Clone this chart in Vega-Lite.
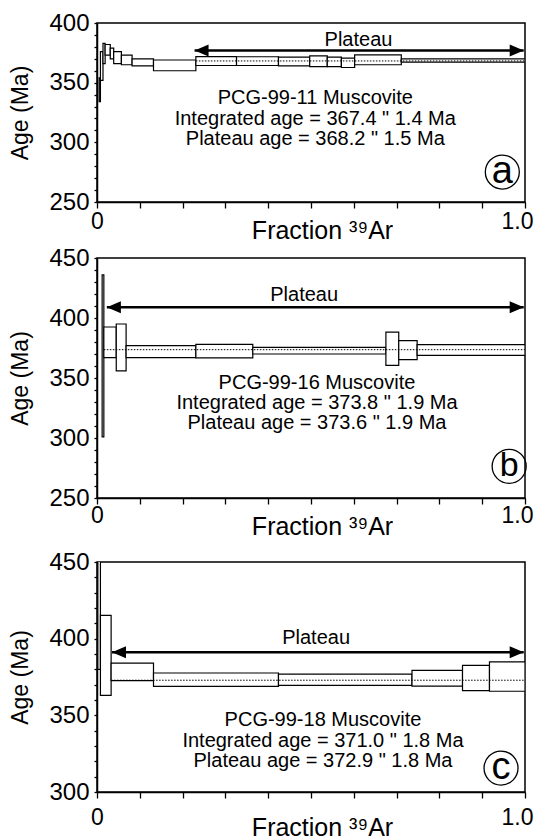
{
  "$schema": "https://vega.github.io/schema/vega-lite/v6.json",
  "usermeta": {"embedOptions": {"actions": false}},
  "background": "white",
  "padding": {"left": 9, "top": 10, "right": 0, "bottom": 0},
  "datasets": {
    "a_steps": [
      {"f0": 0.005, "f1": 0.008, "lo": 334, "hi": 354},
      {"f0": 0.008, "f1": 0.014, "lo": 352, "hi": 376},
      {"f0": 0.014, "f1": 0.019, "lo": 366, "hi": 383},
      {"f0": 0.019, "f1": 0.031, "lo": 373, "hi": 382},
      {"f0": 0.031, "f1": 0.039, "lo": 370, "hi": 379},
      {"f0": 0.039, "f1": 0.057, "lo": 366, "hi": 376},
      {"f0": 0.057, "f1": 0.082, "lo": 365, "hi": 373},
      {"f0": 0.082, "f1": 0.132, "lo": 364, "hi": 370},
      {"f0": 0.132, "f1": 0.231, "lo": 360, "hi": 369},
      {"f0": 0.231, "f1": 0.326, "lo": 364.4, "hi": 371.9},
      {"f0": 0.326, "f1": 0.424, "lo": 364.4, "hi": 371.7},
      {"f0": 0.424, "f1": 0.497, "lo": 364.1, "hi": 371.4},
      {"f0": 0.497, "f1": 0.538, "lo": 363.5, "hi": 372.5},
      {"f0": 0.538, "f1": 0.571, "lo": 363.5, "hi": 371.4},
      {"f0": 0.571, "f1": 0.602, "lo": 362.7, "hi": 370.6},
      {"f0": 0.602, "f1": 0.711, "lo": 365, "hi": 373.3},
      {"f0": 0.711, "f1": 1.0, "lo": 367.2, "hi": 370}
    ],
    "a_plateau": [{"f0": 0.231, "f1": 1.0, "lo": 368.2}],
    "a_arrow": [{"f0": 0.228, "f1": 0.997, "lo": 377}],
    "a_heads": [{"f0": 0.228, "lo": 377, "side": "L"}, {"f0": 0.997, "lo": 377, "side": "R"}],
    "a_notes": [
      {"f0": 0.611, "lo": 385.7, "txt": "Plateau"},
      {"f0": 0.51, "lo": 337.4, "txt": "PCG-99-11 Muscovite"},
      {"f0": 0.51, "lo": 319.9, "txt": "Integrated age = 367.4 \" 1.4 Ma"},
      {"f0": 0.51, "lo": 302.4, "txt": "Plateau age = 368.2 \" 1.5 Ma"}
    ],
    "a_tag": [{"f0": 0.947, "lo": 275.1, "txt": "a"}],
    "b_steps": [
      {"f0": 0.012, "f1": 0.016, "lo": 301, "hi": 436},
      {"f0": 0.016, "f1": 0.045, "lo": 367, "hi": 392.5},
      {"f0": 0.045, "f1": 0.068, "lo": 356, "hi": 395},
      {"f0": 0.068, "f1": 0.231, "lo": 367, "hi": 377},
      {"f0": 0.231, "f1": 0.364, "lo": 366.7, "hi": 378},
      {"f0": 0.364, "f1": 0.675, "lo": 370, "hi": 375.5},
      {"f0": 0.675, "f1": 0.705, "lo": 360.6, "hi": 388.3},
      {"f0": 0.705, "f1": 0.748, "lo": 365.3, "hi": 381.2},
      {"f0": 0.748, "f1": 1.0, "lo": 368.9, "hi": 377.8}
    ],
    "b_plateau": [{"f0": 0.016, "f1": 1.0, "lo": 373.6}],
    "b_arrow": [{"f0": 0.023, "f1": 0.997, "lo": 409}],
    "b_heads": [{"f0": 0.023, "lo": 409, "side": "L"}, {"f0": 0.997, "lo": 409, "side": "R"}],
    "b_notes": [
      {"f0": 0.484, "lo": 419.5, "txt": "Plateau"},
      {"f0": 0.514, "lo": 345.6, "txt": "PCG-99-16 Muscovite"},
      {"f0": 0.514, "lo": 329.0, "txt": "Integrated age = 373.8 \" 1.9 Ma"},
      {"f0": 0.514, "lo": 312.4, "txt": "Plateau age = 373.6 \" 1.9 Ma"}
    ],
    "b_tag": [{"f0": 0.963, "lo": 276.4, "txt": "b"}],
    "c_steps": [
      {"f0": 0.002, "f1": 0.008, "lo": 380, "hi": 470},
      {"f0": 0.008, "f1": 0.033, "lo": 363, "hi": 415.2},
      {"f0": 0.033, "f1": 0.132, "lo": 372.6, "hi": 384.1},
      {"f0": 0.132, "f1": 0.424, "lo": 368.9, "hi": 377.6},
      {"f0": 0.424, "f1": 0.736, "lo": 369.5, "hi": 376.9},
      {"f0": 0.736, "f1": 0.854, "lo": 369, "hi": 379.3},
      {"f0": 0.854, "f1": 0.917, "lo": 366.1, "hi": 382.6},
      {"f0": 0.917, "f1": 1.0, "lo": 365.7, "hi": 384.8}
    ],
    "c_plateau": [{"f0": 0.033, "f1": 1.0, "lo": 372.9}],
    "c_arrow": [{"f0": 0.035, "f1": 0.997, "lo": 391.1}],
    "c_heads": [{"f0": 0.035, "lo": 391.1, "side": "L"}, {"f0": 0.997, "lo": 391.1, "side": "R"}],
    "c_notes": [
      {"f0": 0.512, "lo": 400.4, "txt": "Plateau"},
      {"f0": 0.528, "lo": 347.2, "txt": "PCG-99-18 Muscovite"},
      {"f0": 0.528, "lo": 333.2, "txt": "Integrated age = 371.0 \" 1.8 Ma"},
      {"f0": 0.528, "lo": 320.2, "txt": "Plateau age = 372.9 \" 1.8 Ma"}
    ],
    "c_tag": [{"f0": 0.944, "lo": 315.6, "txt": "c"}]
  },
  "spacing": 56,
  "bounds": "flush",
  "vconcat": [
    {
      "width": 428,
      "height": 179,
      "encoding": {
        "x": {"field": "f0", "type": "quantitative", "title": "Fraction ³⁹Ar", "scale": {"domain": [0, 1], "nice": false},
              "axis": {"labelPadding": 2, "titleY": 28, "labelOverlap": false,
                       "values": [0, 0.1, 0.2, 0.3, 0.4, 0.5, 0.6, 0.7, 0.8, 0.9, 1],
                       "labelOffset": {"condition": {"test": "datum.value === 1", "value": -8}, "value": 0}}},
        "y": {"field": "lo", "type": "quantitative", "title": "Age (Ma)", "scale": {"domain": [250, 400], "nice": false, "zero": false},
              "axis": {"labelOverlap": false,
                       "values": [250, 260, 270, 280, 290, 300, 310, 320, 330, 340, 350, 360, 370, 380, 390, 400]}}
      },
      "layer": [
        {"data": {"name": "a_steps"}, "mark": {"type": "rect", "fill": "white", "stroke": "black", "strokeWidth": 1.2, "clip": true},
         "encoding": {"x2": {"field": "f1"}, "y2": {"field": "hi"}}},
        {"data": {"name": "a_plateau"}, "mark": {"type": "rule", "color": "black", "strokeWidth": 1, "strokeDash": [1.5, 1.5]},
         "encoding": {"x2": {"field": "f1"}}},
        {"data": {"name": "a_arrow"}, "mark": {"type": "rule", "color": "black", "strokeWidth": 2.5},
         "encoding": {"x2": {"field": "f1"}}},
        {"data": {"name": "a_heads"}, "mark": {"type": "point", "filled": true, "color": "black", "opacity": 1, "size": 196},
         "encoding": {"shape": {"field": "side", "type": "nominal", "legend": null,
                                "scale": {"domain": ["L", "R"], "range": ["M 0 0 L 2 -0.85 L 2 0.85 Z", "M 0 0 L -2 -0.85 L -2 0.85 Z"]}}}},
        {"data": {"name": "a_notes"}, "mark": {"type": "text", "fontSize": 20, "align": "center", "baseline": "middle", "color": "black"},
         "encoding": {"text": {"field": "txt"}}},
        {"data": {"name": "a_tag"}, "mark": {"type": "point", "shape": "circle", "filled": false, "color": "black", "strokeWidth": 1.3, "opacity": 1, "size": 1156}},
        {"data": {"name": "a_tag"}, "mark": {"type": "text", "fontSize": 38, "align": "center", "baseline": "middle", "color": "black"},
         "encoding": {"text": {"field": "txt"}}}
      ]
    },
    {
      "spacing": 64,
      "bounds": "flush",
      "vconcat": [
        {
          "width": 428,
          "height": 240,
          "encoding": {
            "x": {"field": "f0", "type": "quantitative", "title": "Fraction ³⁹Ar", "scale": {"domain": [0, 1], "nice": false},
                  "axis": {"labelPadding": 0, "titleY": 28, "labelOverlap": false,
                           "values": [0, 0.1, 0.2, 0.3, 0.4, 0.5, 0.6, 0.7, 0.8, 0.9, 1],
                           "labelOffset": {"condition": {"test": "datum.value === 1", "value": -8}, "value": 0}}},
            "y": {"field": "lo", "type": "quantitative", "title": "Age (Ma)", "scale": {"domain": [250, 450], "nice": false, "zero": false},
                  "axis": {"labelOverlap": false,
                           "values": [250, 260, 270, 280, 290, 300, 310, 320, 330, 340, 350, 360, 370, 380, 390, 400, 410, 420, 430, 440, 450]}}
          },
          "layer": [
            {"data": {"name": "b_steps"}, "mark": {"type": "rect", "fill": "white", "stroke": "black", "strokeWidth": 1.2, "clip": true},
             "encoding": {"x2": {"field": "f1"}, "y2": {"field": "hi"}}},
            {"data": {"name": "b_plateau"}, "mark": {"type": "rule", "color": "black", "strokeWidth": 1, "strokeDash": [1.5, 1.5]},
             "encoding": {"x2": {"field": "f1"}}},
            {"data": {"name": "b_arrow"}, "mark": {"type": "rule", "color": "black", "strokeWidth": 2.5},
             "encoding": {"x2": {"field": "f1"}}},
            {"data": {"name": "b_heads"}, "mark": {"type": "point", "filled": true, "color": "black", "opacity": 1, "size": 196},
             "encoding": {"shape": {"field": "side", "type": "nominal", "legend": null,
                                    "scale": {"domain": ["L", "R"], "range": ["M 0 0 L 2 -0.85 L 2 0.85 Z", "M 0 0 L -2 -0.85 L -2 0.85 Z"]}}}},
            {"data": {"name": "b_notes"}, "mark": {"type": "text", "fontSize": 20, "align": "center", "baseline": "middle", "color": "black"},
             "encoding": {"text": {"field": "txt"}}},
            {"data": {"name": "b_tag"}, "mark": {"type": "point", "shape": "circle", "filled": false, "color": "black", "strokeWidth": 1.3, "opacity": 1, "size": 1156}},
            {"data": {"name": "b_tag"}, "mark": {"type": "text", "fontSize": 34, "align": "center", "baseline": "middle", "color": "black"},
             "encoding": {"text": {"field": "txt"}}}
          ]
        },
        {
          "width": 428,
          "height": 230,
          "encoding": {
            "x": {"field": "f0", "type": "quantitative", "title": "Fraction ³⁹Ar", "scale": {"domain": [0, 1], "nice": false},
                  "axis": {"labelPadding": 8, "titleY": 35, "labelOverlap": false,
                           "values": [0, 0.1, 0.2, 0.3, 0.4, 0.5, 0.6, 0.7, 0.8, 0.9, 1],
                           "labelOffset": {"condition": {"test": "datum.value === 1", "value": -8}, "value": 0}}},
            "y": {"field": "lo", "type": "quantitative", "title": "Age (Ma)", "scale": {"domain": [300, 450], "nice": false, "zero": false},
                  "axis": {"labelOverlap": false,
                           "values": [300, 310, 320, 330, 340, 350, 360, 370, 380, 390, 400, 410, 420, 430, 440, 450]}}
          },
          "layer": [
            {"data": {"name": "c_steps"}, "mark": {"type": "rect", "fill": "white", "stroke": "black", "strokeWidth": 1.2, "clip": true},
             "encoding": {"x2": {"field": "f1"}, "y2": {"field": "hi"}}},
            {"data": {"name": "c_plateau"}, "mark": {"type": "rule", "color": "black", "strokeWidth": 1, "strokeDash": [1.5, 1.5]},
             "encoding": {"x2": {"field": "f1"}}},
            {"data": {"name": "c_arrow"}, "mark": {"type": "rule", "color": "black", "strokeWidth": 2.5},
             "encoding": {"x2": {"field": "f1"}}},
            {"data": {"name": "c_heads"}, "mark": {"type": "point", "filled": true, "color": "black", "opacity": 1, "size": 196},
             "encoding": {"shape": {"field": "side", "type": "nominal", "legend": null,
                                    "scale": {"domain": ["L", "R"], "range": ["M 0 0 L 2 -0.85 L 2 0.85 Z", "M 0 0 L -2 -0.85 L -2 0.85 Z"]}}}},
            {"data": {"name": "c_notes"}, "mark": {"type": "text", "fontSize": 20, "align": "center", "baseline": "middle", "color": "black"},
             "encoding": {"text": {"field": "txt"}}},
            {"data": {"name": "c_tag"}, "mark": {"type": "point", "shape": "circle", "filled": false, "color": "black", "strokeWidth": 1.3, "opacity": 1, "size": 1156}},
            {"data": {"name": "c_tag"}, "mark": {"type": "text", "fontSize": 38, "align": "center", "baseline": "middle", "color": "black"},
             "encoding": {"text": {"field": "txt"}}}
          ]
        }
      ]
    }
  ],
  "config": {
    "font": "Liberation Sans",
    "view": {"stroke": "black", "strokeWidth": 1.5},
    "axis": {
      "grid": false,
      "domainColor": "black",
      "domainWidth": 1.5,
      "tickColor": "black",
      "tickWidth": 1.3,
      "labelColor": "black",
      "titleColor": "black",
      "labelFont": "Liberation Sans",
      "titleFont": "Liberation Sans",
      "titleFontWeight": "normal",
      "labelOverlap": false
    },
    "axisX": {
      "labelExpr": "datum.value === 0 ? '0' : (datum.value === 1 ? '1.0' : '')",
      "tickSize": 6,
      "labelFontSize": 23,
      "labelFlush": false,
      "labelBaseline": "top",
      "titleFontSize": 25,
      "titleBaseline": "middle",
      "titleAlign": "center",
      "titleX": 225
    },
    "axisY": {
      "tickSize": 3,
      "labelPadding": 5,
      "labelFontSize": 24,
      "labelExpr": "datum.value % 50 === 0 ? datum.label : ''",
      "titleFontSize": 23,
      "titlePadding": 16
    }
  }
}
